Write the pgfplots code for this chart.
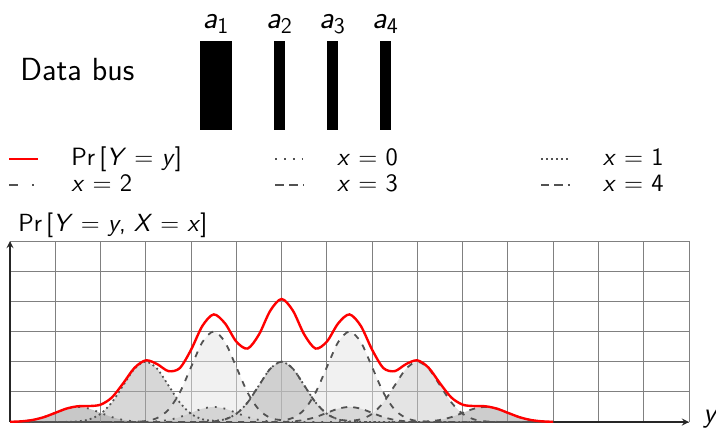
\documentclass[border=0pt]{standalone}
\usepackage{pgfplots}
\pgfplotsset{compat=1.18}
\usepackage{pgfplotstable}
\renewcommand{\familydefault}{\sfdefault}
\newcommand{\vv}[1]{\textit{#1}}
\newcommand{\lent}[1]{\makebox[117.5pt][l]{\hspace*{16pt}#1}}

% Pr[Y=y, X=x] for x = 0..4 (Y = X + 2B), and the marginal Pr[Y=y]
\pgfplotstableread{
y p
0 0.006
0.25 0.022
0.5 0.068
0.75 0.162
1 0.303
1.25 0.441
1.5 0.5
1.75 0.441
2 0.303
2.25 0.162
2.5 0.068
2.75 0.023
3 0.011
3.25 0.023
3.5 0.068
3.75 0.162
4 0.303
4.25 0.441
4.5 0.5
4.75 0.441
5 0.303
5.25 0.162
5.5 0.068
5.75 0.022
6 0.006
6.25 0.001
6.5 0
12 0
}\tzero
\pgfplotstableread{
y p
0 0
0.75 0
1 0.001
1.25 0.004
1.5 0.022
1.75 0.088
2 0.271
2.25 0.649
2.5 1.213
2.75 1.765
3 2
3.25 1.765
3.5 1.213
3.75 0.649
4 0.271
4.25 0.092
4.5 0.044
4.75 0.092
5 0.271
5.25 0.649
5.5 1.213
5.75 1.765
6 2
6.25 1.765
6.5 1.213
6.75 0.649
7 0.271
7.25 0.088
7.5 0.022
7.75 0.004
8 0.001
8.25 0
12 0
}\tone
\pgfplotstableread{
y p
0 0
2.25 0
2.5 0.001
2.75 0.007
3 0.033
3.25 0.132
3.5 0.406
3.75 0.974
4 1.820
4.25 2.648
4.5 3
4.75 2.648
5 1.820
5.25 0.974
5.5 0.407
5.75 0.138
6 0.067
6.25 0.138
6.5 0.407
6.75 0.974
7 1.820
7.25 2.648
7.5 3
7.75 2.648
8 1.820
8.25 0.974
8.5 0.406
8.75 0.132
9 0.033
9.25 0.007
9.5 0.001
9.75 0
12 0
}\ttwo
\pgfplotstableread{
y p
0 0
3.75 0
4 0.001
4.25 0.004
4.5 0.022
4.75 0.088
5 0.271
5.25 0.649
5.5 1.213
5.75 1.765
6 2
6.25 1.765
6.5 1.213
6.75 0.649
7 0.271
7.25 0.092
7.5 0.044
7.75 0.092
8 0.271
8.25 0.649
8.5 1.213
8.75 1.765
9 2
9.25 1.765
9.5 1.213
9.75 0.649
10 0.271
10.25 0.088
10.5 0.022
10.75 0.004
11 0.001
11.25 0
12 0
}\tthree
\pgfplotstableread{
y p
0 0
5.5 0
5.75 0.001
6 0.006
6.25 0.022
6.5 0.068
6.75 0.162
7 0.303
7.25 0.441
7.5 0.5
7.75 0.441
8 0.303
8.25 0.162
8.5 0.068
8.75 0.023
9 0.011
9.25 0.023
9.5 0.068
9.75 0.162
10 0.303
10.25 0.441
10.5 0.5
10.75 0.441
11 0.303
11.25 0.162
11.5 0.068
11.75 0.022
12 0.006
}\tfour
\pgfplotstableread{
y p
0 0.006
0.25 0.022
0.5 0.068
0.75 0.162
1 0.304
1.25 0.446
1.5 0.522
1.75 0.529
2 0.574
2.25 0.812
2.5 1.282
2.75 1.795
3 2.044
3.25 1.920
3.5 1.687
3.75 1.786
4 2.395
4.25 3.185
4.5 3.567
4.75 3.269
5 2.665
5.25 2.435
5.5 2.901
5.75 3.691
6 4.078
6.25 3.691
6.5 2.901
6.75 2.435
7 2.665
7.25 3.269
7.5 3.567
7.75 3.185
8 2.395
8.25 1.786
8.5 1.687
8.75 1.920
9 2.044
9.25 1.795
9.5 1.282
9.75 0.812
10 0.574
10.25 0.529
10.5 0.522
10.75 0.446
11 0.304
11.25 0.162
11.5 0.068
11.75 0.022
12 0.006
}\ttotal

\pgfplotsset{
  comp/.style={black!68, line width=0.9pt},
  sx0/.style={comp, dash pattern=on 0.9pt off 3.5pt},
  sx1/.style={comp, dash pattern=on 0.9pt off 1.6pt},
  sx2/.style={comp, dash pattern=on 3pt off 3.5pt},
  sx3/.style={comp, dash pattern=on 3pt off 3.5pt},
  sx4/.style={comp, dash pattern=on 3pt off 3pt},
  lx2/.style={comp, dash pattern=on 4.5pt off 7pt on 0.9pt off 5pt},
  lx3/.style={comp, dash pattern=on 4.5pt off 2.5pt},
  lx4/.style={comp, dash pattern=on 4.2pt off 2.5pt},
  stot/.style={red, line width=1.2pt},
  shade/.style={draw=none, fill opacity=0.5, smooth, forget plot},
}

\begin{document}
\begin{tikzpicture}
\begin{axis}[
  at={(0pt,0pt)}, anchor=south west,
  scale only axis, width=339.5pt, height=90.5pt,
  xmin=0, xmax=15, ymin=0, ymax=6,
  axis lines=left,
  axis line style={black!85, line width=0.6pt},
  xtick={0,1,...,15}, ytick={0,1,...,6},
  xticklabels={}, yticklabels={},
  major tick length=0pt,
  grid=major,
  grid style={black!50, line width=0.5pt},
  xlabel={\vv{y}},
  ylabel={Pr\,[\vv{Y} = \vv{y}, \vv{X} = \vv{x}]},
  every axis x label/.style={at={(axis description cs:1,0)}, anchor=base west,
    xshift=7pt, inner sep=0pt, font=\fontsize{14}{16}\selectfont},
  every axis y label/.style={at={(axis description cs:0,1)}, anchor=south west,
    xshift=4pt, yshift=1.5pt, inner sep=0pt, font=\fontsize{12.4}{15}\selectfont},
  legend image code/.code={\draw[#1] (0pt,0pt) -- (14.5pt,0pt);},
  legend columns=3,
  legend cell align=left,
  legend style={at={(axis description cs:-0.003,1.525)}, anchor=north west,
    draw=none, fill=none, inner sep=0pt, outer sep=0pt,
    column sep=0pt, row sep=0pt,
    font=\fontsize{12.5}{15}\selectfont,
    nodes={inner sep=0pt, text height=10pt, text depth=3pt}},
]
\addlegendimage{stot}
\addlegendentry{\lent{Pr\,[\vv{Y} = \vv{y}]}}
\addlegendimage{sx0}
\addlegendentry{\lent{\vv{x} = 0}}
\addlegendimage{sx1}
\addlegendentry{\lent{\vv{x} = 1}}
\addlegendimage{lx2}
\addlegendentry{\lent{\vv{x} = 2}}
\addlegendimage{lx3}
\addlegendentry{\lent{\vv{x} = 3}}
\addlegendimage{lx4}
\addlegendentry{\lent{\vv{x} = 4}}

% shaded joint probabilities
\addplot[shade, fill=black!43] table {\tzero} \closedcycle;
\addplot[shade, fill=black!39] table {\tfour} \closedcycle;
\addplot[shade, fill=black!31] table {\tone} \closedcycle;
\addplot[shade, fill=black!21] table {\tthree} \closedcycle;
\addplot[shade, fill=black!11] table {\ttwo} \closedcycle;

% outlines
\addplot[sx0, smooth, forget plot] table {\tzero};
\addplot[sx1, smooth, forget plot] table {\tone};
\addplot[sx2, smooth, forget plot] table {\ttwo};
\addplot[sx3, smooth, forget plot] table {\tthree};
\addplot[sx4, smooth, forget plot] table {\tfour};

% marginal
\addplot[stot, smooth, forget plot] table {\ttotal};
\end{axis}

% data bus sketch
\node[anchor=base west, inner sep=0pt, font=\fontsize{16}{19}\selectfont] at (5pt,171pt) {Data bus};
\fill[black] (95pt,146pt) rectangle (111pt,190.5pt);
\fill[black] (132pt,146pt) rectangle (137.5pt,190.5pt);
\fill[black] (158.5pt,146pt) rectangle (164pt,190.5pt);
\fill[black] (185pt,146pt) rectangle (190.5pt,190.5pt);
\foreach \xc/\i in {103/1, 134.75/2, 161.25/3, 187.75/4}
  \node[anchor=base, inner sep=0pt, font=\fontsize{16}{19}\selectfont] at (\xc pt,197pt) {\vv{a}\textsubscript{\i}};

\pgfresetboundingbox
\useasboundingbox (-5pt,-4pt) rectangle (353pt,211pt);
\end{tikzpicture}
\end{document}
